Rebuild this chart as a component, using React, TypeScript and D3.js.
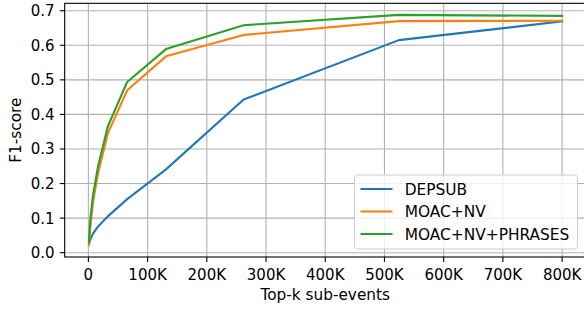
import * as d3 from 'd3';
import React, { useEffect, useRef } from 'react';

// top-k values (sub-events)
const topK = [1024, 2048, 4096, 8192, 16384, 32768, 65536, 131072, 262144, 524288, 800000];

const depsub = [0.025, 0.032, 0.042, 0.056, 0.076, 0.105, 0.155, 0.241, 0.443, 0.615, 0.669];
const moacNv = [0.022, 0.05, 0.09, 0.15, 0.23, 0.345, 0.47, 0.568, 0.63, 0.67, 0.671];
const moacNvPhrases = [0.03, 0.065, 0.11, 0.17, 0.25, 0.365, 0.494, 0.589, 0.658, 0.688, 0.685];

const seriesNames = ['DEPSUB', 'MOAC+NV', 'MOAC+NV+PHRASES'];
const seriesColors = ['#1f77b4', '#ff7f0e', '#2ca02c'];

const xTicks = [0, 100000, 200000, 300000, 400000, 500000, 600000, 700000, 800000];
const xTickLabels = ['0', '100K', '200K', '300K', '400K', '500K', '600K', '700K', '800K'];
const yTicks = [0, 0.1, 0.2, 0.3, 0.4, 0.5, 0.6, 0.7];

const W = 584;
const H = 310;
const FONT = 'DejaVu Sans, sans-serif';

function App() {
    const ref = useRef<SVGSVGElement>(null);

    useEffect(() => {
        const svg = d3.select(ref.current);
        svg.selectAll('*').remove();

        const left = 64.7, right = 585.8, top = 3.3, bottom = 257;
        const x = d3.scaleLinear().domain([-40000, 840000]).range([left, right]);
        const y = d3.scaleLinear().domain([-0.0125, 0.7215]).range([bottom, top]);

        svg.append('rect').attr('width', W).attr('height', H).attr('fill', 'white');

        // grid
        const grid = svg.append('g').attr('stroke', '#b0b0b0').attr('stroke-width', 1.1);
        grid.selectAll('line.gx')
            .data(xTicks)
            .enter()
            .append('line')
            .attr('x1', d => x(d)).attr('x2', d => x(d))
            .attr('y1', top).attr('y2', bottom);
        grid.selectAll('line.gy')
            .data(yTicks)
            .enter()
            .append('line')
            .attr('x1', left).attr('x2', right)
            .attr('y1', d => y(d)).attr('y2', d => y(d));

        // lines
        const all = [depsub, moacNv, moacNvPhrases];
        const line = d3.line<number>()
            .x((_, i) => x(topK[i]))
            .y(d => y(d));
        all.forEach((s, i) => {
            svg.append('path')
                .attr('d', line(s))
                .attr('fill', 'none')
                .attr('stroke', seriesColors[i])
                .attr('stroke-width', 2.1)
                .attr('stroke-linejoin', 'round')
                .attr('stroke-linecap', 'square');
        });

        // spines
        svg.append('rect')
            .attr('x', left).attr('y', top)
            .attr('width', right - left).attr('height', bottom - top)
            .attr('fill', 'none').attr('stroke', '#000').attr('stroke-width', 1.1);

        // x ticks
        const xt = svg.append('g');
        xt.selectAll('line')
            .data(xTicks)
            .enter()
            .append('line')
            .attr('x1', d => x(d)).attr('x2', d => x(d))
            .attr('y1', bottom).attr('y2', bottom + 4.9)
            .attr('stroke', '#000').attr('stroke-width', 1.1);
        xt.selectAll('text')
            .data(xTicks)
            .enter()
            .append('text')
            .attr('x', d => x(d))
            .attr('y', 280)
            .attr('text-anchor', 'middle')
            .style('font-family', FONT)
            .style('font-size', '15px')
            .attr('fill', '#000')
            .text((_, i) => xTickLabels[i]);

        // y ticks
        const yt = svg.append('g');
        yt.selectAll('line')
            .data(yTicks)
            .enter()
            .append('line')
            .attr('x1', left - 4.9).attr('x2', left)
            .attr('y1', d => y(d)).attr('y2', d => y(d))
            .attr('stroke', '#000').attr('stroke-width', 1.1);
        yt.selectAll('text')
            .data(yTicks)
            .enter()
            .append('text')
            .attr('x', 54.5)
            .attr('y', d => y(d) + 5.4)
            .attr('text-anchor', 'end')
            .style('font-family', FONT)
            .style('font-size', '15px')
            .attr('fill', '#000')
            .text(d => d3.format('.1f')(d));

        // axis labels
        svg.append('text')
            .attr('x', (left + right) / 2)
            .attr('y', 300)
            .attr('text-anchor', 'middle')
            .style('font-family', FONT)
            .style('font-size', '15.3px')
            .text('Top-k sub-events');
        svg.append('text')
            .attr('transform', `translate(21,${(top + bottom) / 2}) rotate(-90)`)
            .attr('text-anchor', 'middle')
            .style('font-family', FONT)
            .style('font-size', '15.3px')
            .text('F1-score');

        // legend
        const lg = svg.append('g');
        lg.append('rect')
            .attr('x', 354.5).attr('y', 175)
            .attr('width', 223).attr('height', 74)
            .attr('rx', 3)
            .attr('fill', 'white').attr('fill-opacity', 0.8)
            .attr('stroke', '#cccccc').attr('stroke-width', 1);
        seriesNames.forEach((name, i) => {
            const cy = 189 + i * 22.5;
            lg.append('line')
                .attr('x1', 360.5).attr('x2', 392.5)
                .attr('y1', cy).attr('y2', cy)
                .attr('stroke', seriesColors[i]).attr('stroke-width', 2.1);
            lg.append('text')
                .attr('x', 404.7).attr('y', cy + 5.5)
                .style('font-family', FONT)
                .style('font-size', '15.4px')
                .text(name);
        });
    }, []);

    return (
        <svg ref={ref} width={W} height={H} style={{ position: 'absolute', left: 0, top: 0 }}></svg>
    );
}

export default App;
